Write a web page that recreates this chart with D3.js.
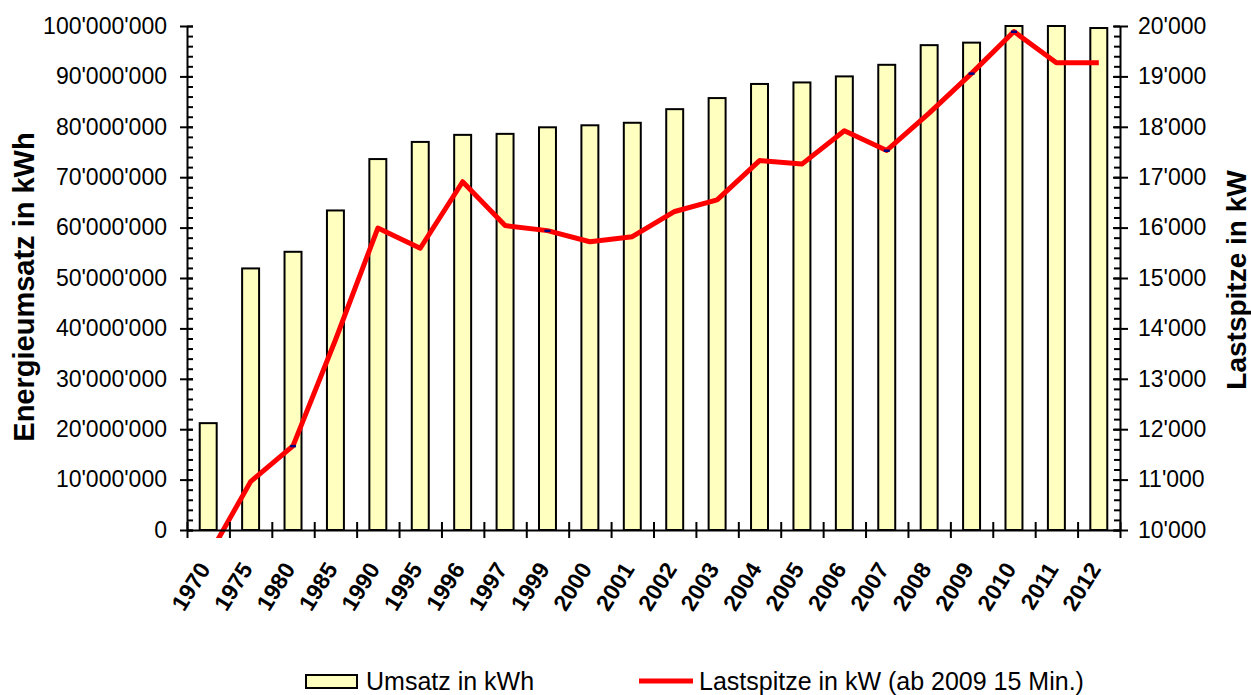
<!DOCTYPE html>
<html>
<head>
<meta charset="utf-8">
<script src="https://cdn.jsdelivr.net/npm/d3@7"></script>
<style>
  body { margin: 0; background: #fff; }
  svg { display: block; font-family: Arial, 'Liberation Sans', sans-serif; }
</style>
</head>
<body>
<div id="chart"></div>
<script>
// categories (years) as shown on the x axis
const years = ['1970','1975','1980','1985','1990','1995','1996','1997','1999','2000','2001',
               '2002','2003','2004','2005','2006','2007','2008','2009','2010','2011','2012'];

// Umsatz in kWh (bars, left axis)
const umsatz = [21200000, 51900000, 55200000, 63400000, 73600000, 77000000, 78400000, 78600000,
                79900000, 80300000, 80800000, 83500000, 85700000, 88500000, 88800000, 90000000,
                92300000, 96200000, 96700000, 100000000, 100000000, 99600000];

// Lastspitze in kW (line, right axis)
const lastspitze = [9470, 10960, 11670, 13770, 15990, 15590, 16910, 16040, 15940, 15720, 15820,
                    16320, 16550, 17330, 17260, 17920, 17530, 18270, 19060, 19890, 19270, 19270];

// small navy markers visible on the line
const markerYears = ['1980', '1999', '2007', '2009', '2010'];

// tick values
const leftTicks = d3.range(0, 100000001, 10000000);
const leftMinor = d3.range(0, 100000001, 2000000);
const rightTicks = d3.range(10000, 20001, 1000);
const rightMinor = d3.range(10000, 20001, 200);

const width = 1251, height = 695;
const plot = { left: 187, right: 1120, top: 26, bottom: 530 };

const fmt = d3.formatLocale({ decimal: '.', thousands: "'", grouping: [3], currency: ['', ''] }).format(',');

const svg = d3.select('#chart').append('svg')
    .attr('width', width)
    .attr('height', height);

svg.append('rect').attr('width', width).attr('height', height).attr('fill', '#fff');

// scales
const x = d3.scaleBand()
    .domain(years)
    .range([plot.left, plot.right])
    .paddingInner(0.6)
    .paddingOuter(0.3);

const xEdge = d3.scaleLinear().domain([0, years.length]).range([plot.left, plot.right]);

const yL = d3.scaleLinear().domain([0, 100000000]).range([plot.bottom, plot.top]);
const yR = d3.scaleLinear().domain([10000, 20000]).range([plot.bottom, plot.top]);

// clip for the line (Excel lets it run a bit past the bottom)
svg.append('clipPath').attr('id', 'clip')
  .append('rect')
    .attr('x', plot.left).attr('y', plot.top - 4)
    .attr('width', plot.right - plot.left)
    .attr('height', plot.bottom - plot.top + 12);

// bars
svg.selectAll('.bar')
    .data(years)
    .join('rect')
    .attr('class', 'bar')
    .attr('x', d => x(d))
    .attr('y', (d, i) => yL(umsatz[i]))
    .attr('width', x.bandwidth())
    .attr('height', (d, i) => yL(0) - yL(umsatz[i]))
    .attr('fill', '#FFFFC0')
    .attr('stroke', '#000')
    .attr('stroke-width', 2);

// line
const line = d3.line()
    .x((d, i) => x(years[i]) + x.bandwidth() / 2)
    .y(d => yR(d));

svg.append('path')
    .datum(lastspitze)
    .attr('clip-path', 'url(#clip)')
    .attr('d', line)
    .attr('fill', 'none')
    .attr('stroke', '#FF0000')
    .attr('stroke-width', 5)
    .attr('stroke-linejoin', 'round');

svg.selectAll('.mk')
    .data(markerYears)
    .join('rect')
    .attr('class', 'mk')
    .attr('x', d => x(d) + x.bandwidth() / 2 - 3)
    .attr('y', d => yR(lastspitze[years.indexOf(d)]) - 1)
    .attr('width', 6)
    .attr('height', 2.5)
    .attr('fill', '#000080');

// left axis
const gL = svg.append('g').attr('transform', `translate(${plot.left},0)`);
gL.call(d3.axisLeft(yL).tickValues(leftMinor).tickSize(-6).tickFormat(''))
  .call(g => g.select('.domain').remove());
gL.selectAll('.tick line').attr('stroke-width', 2);

const gL2 = svg.append('g').attr('transform', `translate(${plot.left},0)`);
gL2.call(d3.axisLeft(yL).tickValues(leftTicks).tickSize(7).tickSizeOuter(0).tickPadding(13).tickFormat(fmt));
gL2.selectAll('.tick line').attr('x2', -7).attr('x1', 6).attr('stroke-width', 2);
gL2.select('.domain').attr('stroke-width', 2);
gL2.selectAll('.tick text').style('font-size', '23px').attr('fill', '#000');

// right axis
const gR = svg.append('g').attr('transform', `translate(${plot.right},0)`);
gR.call(d3.axisRight(yR).tickValues(rightMinor).tickSize(-6).tickFormat(''))
  .call(g => g.select('.domain').remove());
gR.selectAll('.tick line').attr('stroke-width', 2);

const gR2 = svg.append('g').attr('transform', `translate(${plot.right},0)`);
gR2.call(d3.axisRight(yR).tickValues(rightTicks).tickSize(8).tickSizeOuter(0).tickPadding(10).tickFormat(fmt));
gR2.selectAll('.tick line').attr('x1', -7).attr('x2', 8).attr('stroke-width', 2);
gR2.select('.domain').attr('stroke-width', 2);
gR2.selectAll('.tick text').style('font-size', '23px').attr('fill', '#000');

// x axis: boundary ticks
const gX = svg.append('g').attr('transform', `translate(0,${plot.bottom})`);
gX.call(d3.axisBottom(xEdge).tickValues(d3.range(years.length + 1)).tickSize(8).tickSizeOuter(0).tickFormat(''));
gX.selectAll('.tick line').attr('y1', -8).attr('y2', 8).attr('stroke-width', 2);
gX.select('.domain').attr('stroke-width', 2);

// x labels
const gXL = svg.append('g').attr('transform', `translate(0,${plot.bottom})`);
gXL.call(d3.axisBottom(x).tickSize(0).tickPadding(0));
gXL.select('.domain').remove();
gXL.selectAll('.tick text')
    .attr('text-anchor', 'end')
    .attr('dy', 0)
    .attr('y', 0)
    .attr('transform', 'translate(3,39) rotate(-58)')
    .style('font-size', '23px')
    .style('font-weight', 'bold')
    .attr('fill', '#000');

// axis titles
svg.append('text')
    .attr('transform', 'translate(34,287) rotate(-90)')
    .attr('text-anchor', 'middle')
    .style('font-size', '29px')
    .style('font-weight', 'bold')
    .text('Energieumsatz in kWh');

svg.append('text')
    .attr('transform', 'translate(1246,280) rotate(-90)')
    .attr('text-anchor', 'middle')
    .style('font-size', '28px')
    .style('font-weight', 'bold')
    .text('Lastspitze in kW');

// legend
const legend = svg.append('g');
legend.append('rect')
    .attr('x', 306).attr('y', 675)
    .attr('width', 51).attr('height', 13)
    .attr('fill', '#FFFFC0')
    .attr('stroke', '#000')
    .attr('stroke-width', 2);
legend.append('text')
    .attr('x', 366).attr('y', 690)
    .style('font-size', '25px')
    .text('Umsatz in kWh');
legend.append('line')
    .attr('x1', 639).attr('x2', 693)
    .attr('y1', 681).attr('y2', 681)
    .attr('stroke', '#FF0000')
    .attr('stroke-width', 5);
legend.append('text')
    .attr('x', 699).attr('y', 690)
    .style('font-size', '25px')
    .text('Lastspitze in kW (ab 2009 15 Min.)');
</script>
</body>
</html>
